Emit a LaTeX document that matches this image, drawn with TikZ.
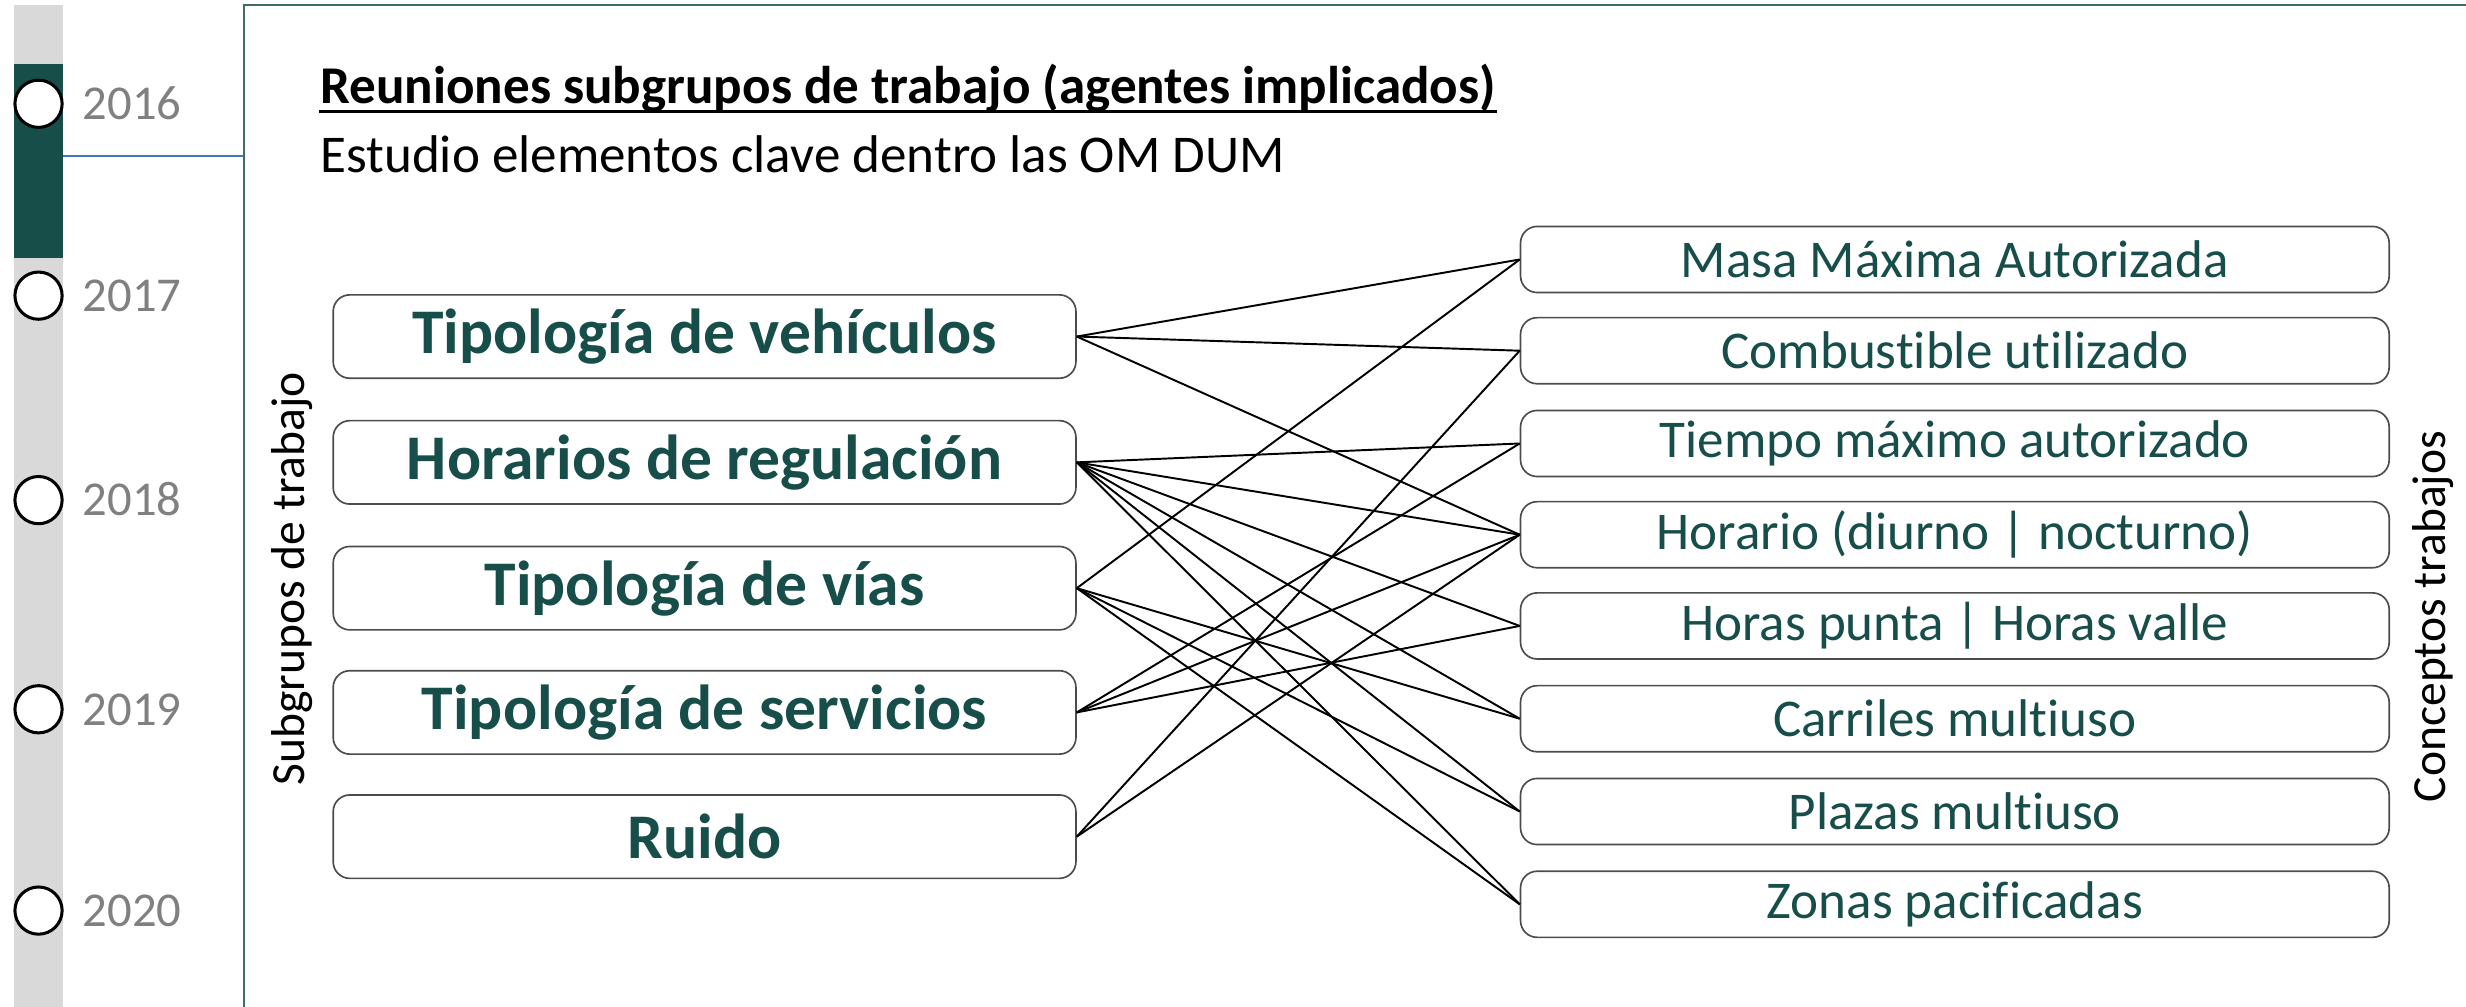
\documentclass[tikz,border=0pt]{standalone}
\usepackage{fontspec}
\setmainfont{Carlito}[Ligatures={NoCommon}]
\definecolor{verde}{HTML}{174E4A}
\definecolor{gris}{HTML}{D9D9D9}
\definecolor{grisano}{HTML}{808080}
\definecolor{azul}{HTML}{4472C4}
\definecolor{marco}{HTML}{3F6B68}
\tikzset{
  grupo/.style={draw=black!70, line width=.3pt, rounded corners=3pt, minimum width=4.72cm,
    minimum height=.53cm, inner sep=0pt, text=verde, font=\fontsize{11.5}{13}\selectfont\bfseries},
  concepto/.style={draw=black!70, line width=.3pt, rounded corners=3pt, minimum width=5.52cm,
    minimum height=.42cm, inner sep=0pt, text=verde, font=\fontsize{9.6}{11}\selectfont},
  hito/.style={circle, draw, fill=white, line width=.55pt, minimum size=.3cm, inner sep=0pt},
  anyo/.style={anchor=base west, inner sep=0pt, text=grisano, font=\fontsize{8.8}{10}\selectfont},
  lateral/.style={rotate=90, inner sep=0pt, font=\fontsize{8.6}{10}\selectfont},
  enlace/.style={line width=.35pt}
}
\begin{document}
\begin{tikzpicture}[x=.01cm, y=-.01cm]
  \useasboundingbox (0,0) rectangle (1568,640);

  % linea de tiempo
  \fill[gris] (9,3) rectangle (40,640);
  \fill[verde] (9,41) rectangle (40,164);
  \draw[azul, line width=.3pt] (40,99) -- (155,99);
  \draw[marco, line width=.35pt] (155,640) -- (155,3) -- (1568,3);
  \foreach \anyo/\y in {2016/66, 2017/188, 2018/318, 2019/451, 2020/579} {
    \node[hito] (h\anyo) at (24.5,\y) {};
    \node[anyo] (t\anyo) at (52,\y+10) {\anyo};
  }

  \node[anchor=base west, inner sep=0pt, font=\fontsize{9.6}{11}\selectfont\bfseries] (titulo)
    at (203,66) {Reuniones subgrupos de trabajo (agentes implicados)};
  \draw[line width=.6pt] ([yshift=-1.4pt]titulo.base west) -- ([yshift=-1.4pt]titulo.base east);
  \node[anchor=base west, inner sep=0pt, font=\fontsize{9.6}{11}\selectfont] (estudio)
    at (203,110) {Estudio elementos clave dentro las OM DUM};

  % subgrupos
  \foreach \nombre/\y/\texto in {vehiculos/214/Tipología de vehículos, horarios/294/Horarios de regulación,
      vias/374/Tipología de vías, servicios/453/Tipología de servicios, ruido/532/Ruido}
    \node[grupo] (\nombre) at (448,\y) {\texto};

  % conceptos
  \foreach \nombre/\y/\texto in {masa/165/Masa Máxima Autorizada, comb/223/Combustible utilizado,
      tiempo/282/Tiempo máximo autorizado, horario/340/Horario (diurno | nocturno),
      punta/398/Horas punta | Horas valle, carriles/457/Carriles multiuso,
      plazas/516/Plazas multiuso, zonas/575/Zonas pacificadas}
    \node[concepto] (\nombre) at (1243,\y) {\texto};

  \node[lateral] (subgrupos) at (186,368) {Subgrupos de trabajo};
  \node[lateral] (conceptos) at (1547,392) {Conceptos trabajos};

  \foreach \a/\b in {vehiculos/masa, vehiculos/comb, vehiculos/horario,
      horarios/tiempo, horarios/horario, horarios/punta, horarios/carriles, horarios/plazas, horarios/zonas,
      vias/masa, vias/carriles, vias/plazas, vias/zonas,
      servicios/tiempo, servicios/horario, servicios/punta,
      ruido/comb, ruido/horario}
    \draw[enlace] (\a.east) -- (\b.west);

\end{tikzpicture}
\end{document}
